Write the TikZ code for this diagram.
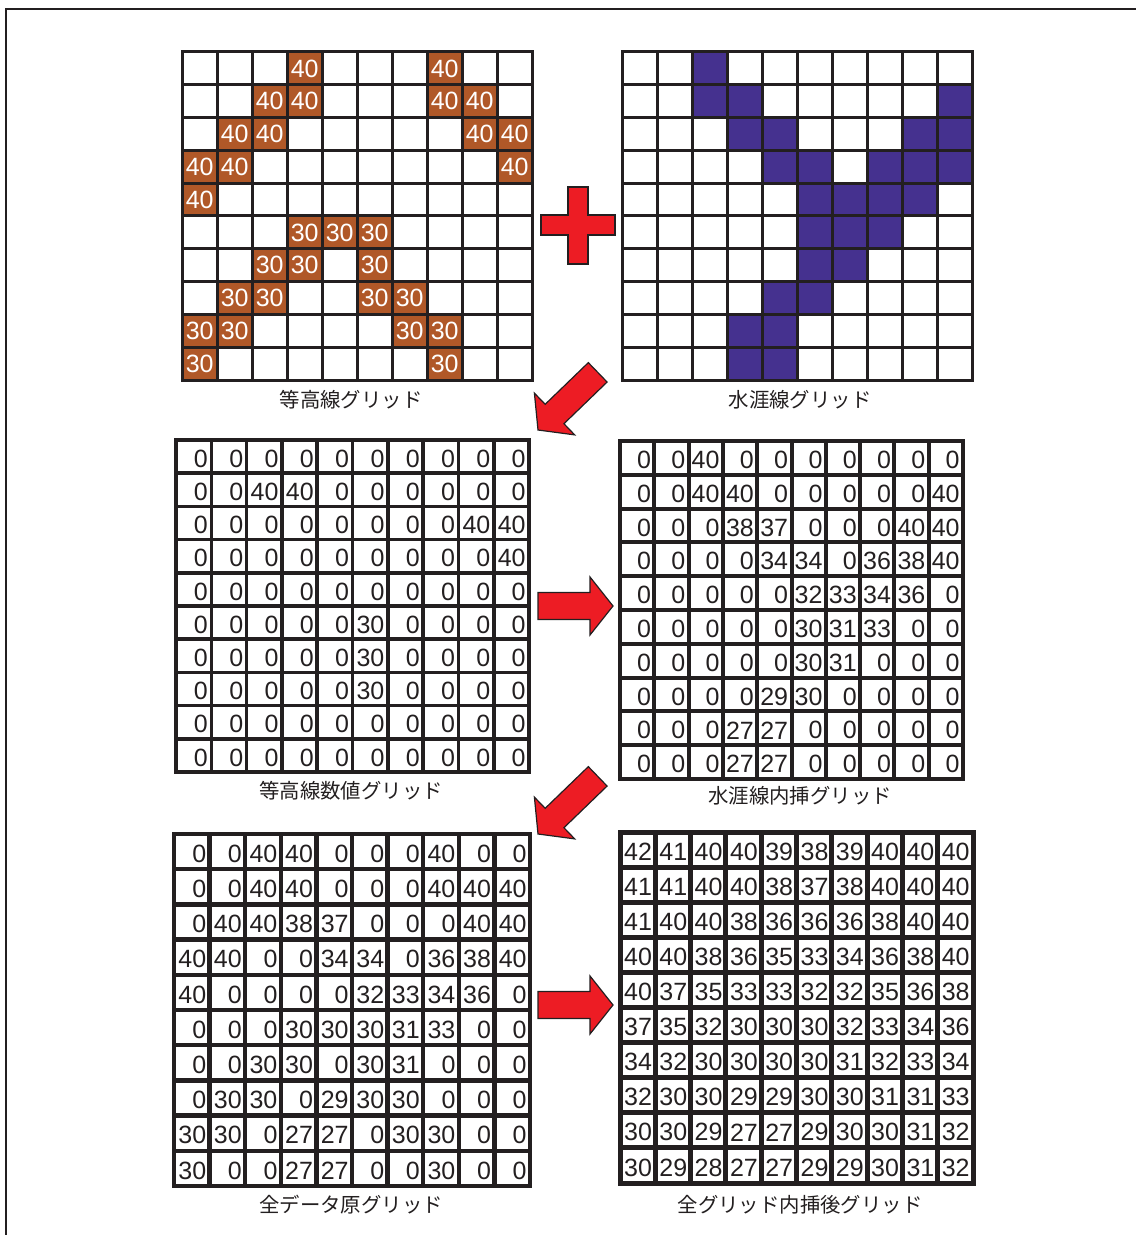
\documentclass[tikz,border=0pt]{standalone}
\usepackage{fontspec}
\setmainfont{Liberation Sans}
\newfontfamily\jpfont{Noto Sans CJK JP}
\definecolor{sumi}{HTML}{231F20}
\definecolor{tsuchi}{HTML}{B05828}
\definecolor{mizu}{HTML}{45318F}
\definecolor{aka}{HTML}{ED1C24}

% 10x10 cell lines: x0, y0, cell width, cell height, line width
\newcommand\cellgrid[5]{%
  \foreach \i in {0,...,10} {
    \draw[gridline, line width=#5] ({#1+\i*#3},#2) -- ({#1+\i*#3},{#2+10*#4});
    \draw[gridline, line width=#5] (#1,{#2+\i*#4}) -- ({#1+10*#3},{#2+\i*#4});
  }}
% numbers row by row: name, x0, y0, cell width, cell height, rows
\newcommand\cellnums[6]{%
  \foreach \row [count=\r from 0] in {#6} {
    \foreach \v [count=\c from 0] in \row
      \node[num] (#1-\r-\c) at ({#2+(\c+1)*#4-3},{#3+(\r+0.5)*#5+2}) {\v};
  }}
% block arrow: tip x, tip y, angle, length
\newcommand\blockarrow[4]{%
  \draw[redshape, shift={(#1,#2)}, rotate=#3]
    (0,0) -- (-23,29) -- (-23,13.5) -- (-#4,13.5) -- (-#4,-13.5) -- (-23,-13.5) -- (-23,-29) -- cycle;}

\begin{document}
\begin{tikzpicture}[x=0.5pt, y=-0.5pt,
    gridline/.style={color=sumi, line cap=rect},
    num/.style={anchor=east, inner sep=0pt, text=sumi, font=\fontsize{12.5}{14}\selectfont},
    gridlabel/.style={font=\jpfont\fontsize{10.2}{12}\selectfont, inner sep=0pt, text=sumi},
    redshape/.style={fill=aka, draw=sumi, line width=0.6pt, line join=miter}
  ]
  \useasboundingbox (0,0) rectangle (1135,1235);
  \draw[sumi, line width=1pt] (6,1245) -- (6,9) -- (1145,9);

  % contour grid
  \foreach \c/\r/\v in {3/0/40, 7/0/40, 2/1/40, 3/1/40, 7/1/40, 8/1/40,
      1/2/40, 2/2/40, 8/2/40, 9/2/40, 0/3/40, 1/3/40, 9/3/40, 0/4/40,
      3/5/30, 4/5/30, 5/5/30, 2/6/30, 3/6/30, 5/6/30, 1/7/30, 2/7/30,
      5/7/30, 6/7/30, 0/8/30, 1/8/30, 6/8/30, 7/8/30, 0/9/30, 7/9/30}
    \fill[tsuchi] ({182+\c*35},{52+\r*32.8}) rectangle ++(35,32.8);
  \cellgrid{182}{52}{35}{32.8}{1.5pt}
  \foreach \c/\r/\v in {3/0/40, 7/0/40, 2/1/40, 3/1/40, 7/1/40, 8/1/40,
      1/2/40, 2/2/40, 8/2/40, 9/2/40, 0/3/40, 1/3/40, 9/3/40, 0/4/40,
      3/5/30, 4/5/30, 5/5/30, 2/6/30, 3/6/30, 5/6/30, 1/7/30, 2/7/30,
      5/7/30, 6/7/30, 0/8/30, 1/8/30, 6/8/30, 7/8/30, 0/9/30, 7/9/30}
    \node[num, text=white] (g1-\r-\c) at ({182+(\c+1)*35-3},{52+(\r+0.5)*32.8}) {\v};
  \node[gridlabel] (l1) at (351,400) {等高線グリッド};

  % water line grid
  \foreach \c/\r in {2/0, 2/1, 3/1, 9/1, 3/2, 4/2, 8/2, 9/2, 4/3, 5/3, 7/3, 8/3, 9/3,
      5/4, 6/4, 7/4, 8/4, 5/5, 6/5, 7/5, 5/6, 6/6, 4/7, 5/7, 3/8, 4/8, 3/9, 4/9}
    \fill[mizu] ({622+\c*35},{52+\r*32.8}) rectangle ++(35,32.8);
  \cellgrid{622}{52}{35}{32.8}{1.5pt}
  \node[gridlabel] (l2) at (800,400) {水涯線グリッド};

  % plus
  \draw[redshape] (541,215) -- (568,215) -- (568,187) -- (588,187) -- (588,215)
    -- (615,215) -- (615,235) -- (588,235) -- (588,264) -- (568,264) -- (568,235)
    -- (541,235) -- cycle;

  % contour value grid
  \cellgrid{176}{440}{35.3}{33.2}{1.8pt}
  \cellnums{g3}{176}{440}{35.3}{33.2}{
    {0,0,0,0,0,0,0,0,0,0}, {0,0,40,40,0,0,0,0,0,0}, {0,0,0,0,0,0,0,0,40,40},
    {0,0,0,0,0,0,0,0,0,40}, {0,0,0,0,0,0,0,0,0,0}, {0,0,0,0,0,30,0,0,0,0},
    {0,0,0,0,0,30,0,0,0,0}, {0,0,0,0,0,30,0,0,0,0}, {0,0,0,0,0,0,0,0,0,0},
    {0,0,0,0,0,0,0,0,0,0}}
  \node[gridlabel] (l3) at (351,791) {等高線数値グリッド};

  % water line interpolated grid
  \cellgrid{620}{441}{34.3}{33.8}{2pt}
  \cellnums{g4}{620}{441}{34.3}{33.8}{
    {0,0,40,0,0,0,0,0,0,0}, {0,0,40,40,0,0,0,0,0,40}, {0,0,0,38,37,0,0,0,40,40},
    {0,0,0,0,34,34,0,36,38,40}, {0,0,0,0,0,32,33,34,36,0}, {0,0,0,0,0,30,31,33,0,0},
    {0,0,0,0,0,30,31,0,0,0}, {0,0,0,0,29,30,0,0,0,0}, {0,0,0,27,27,0,0,0,0,0},
    {0,0,0,27,27,0,0,0,0,0}}
  \node[gridlabel] (l4) at (800,796) {水涯線内挿グリッド};

  % all data grid
  \cellgrid{174}{834}{35.6}{35.2}{2.2pt}
  \cellnums{g5}{174}{834}{35.6}{35.2}{
    {0,0,40,40,0,0,0,40,0,0}, {0,0,40,40,0,0,0,40,40,40}, {0,40,40,38,37,0,0,0,40,40},
    {40,40,0,0,34,34,0,36,38,40}, {40,0,0,0,0,32,33,34,36,0}, {0,0,0,30,30,30,31,33,0,0},
    {0,0,30,30,0,30,31,0,0,0}, {0,30,30,0,29,30,30,0,0,0}, {30,30,0,27,27,0,30,30,0,0},
    {30,0,0,27,27,0,0,30,0,0}}
  \node[gridlabel] (l5) at (351,1205) {全データ原グリッド};

  % interpolated grid
  \cellgrid{620}{832}{35.3}{35.1}{2.5pt}
  \cellnums{g6}{620}{832}{35.3}{35.1}{
    {42,41,40,40,39,38,39,40,40,40}, {41,41,40,40,38,37,38,40,40,40},
    {41,40,40,38,36,36,36,38,40,40}, {40,40,38,36,35,33,34,36,38,40},
    {40,37,35,33,33,32,32,35,36,38}, {37,35,32,30,30,30,32,33,34,36},
    {34,32,30,30,30,30,31,32,33,34}, {32,30,30,29,29,30,30,31,31,33},
    {30,30,29,27,27,29,30,30,31,32}, {30,29,28,27,27,29,29,30,31,32}}
  \node[gridlabel] (l6) at (800,1205) {全グリッド内挿後グリッド};

  % arrows
  \blockarrow{538}{430}{224}{83}
  \blockarrow{613}{606}{0}{75}
  \blockarrow{538}{834}{224}{83}
  \blockarrow{613}{1005}{0}{75}
\end{tikzpicture}
\end{document}
